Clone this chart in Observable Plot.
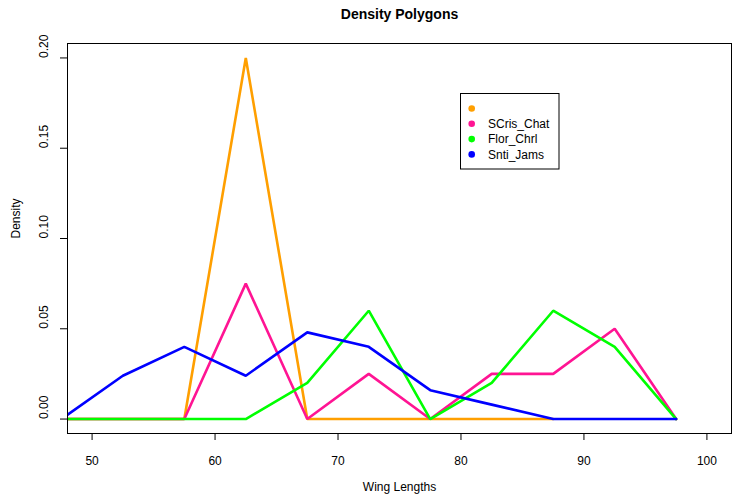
<!DOCTYPE html>
<html>
<head>
<meta charset="utf-8">
<script src="https://cdn.jsdelivr.net/npm/d3@7"></script>
<script src="https://cdn.jsdelivr.net/npm/@observablehq/plot@0.6"></script>
<style>
  html, body { margin: 0; padding: 0; background: #fff; }
  svg { display: block; }
</style>
</head>
<body>
<div id="chart"></div>
<script>
// Bin midpoints (wing lengths)
const mids = [47.5, 52.5, 57.5, 62.5, 67.5, 72.5, 77.5, 82.5, 87.5, 92.5, 97.5];
// Density per series (null = no point)
const orangeVals = [0, 0, 0, 0.2, 0, 0, 0, 0, 0, null, null];
const scrisChat  = [0, 0, 0, 0.075, 0, 0.025, 0, 0.025, 0.025, 0.05, 0];
const florChrl   = [0, 0, 0, 0, 0.02, 0.06, 0, 0.02, 0.06, 0.04, 0];
const sntiJams   = [0, 0.024, 0.04, 0.024, 0.048, 0.04, 0.016, 0.008, 0, 0, 0];

const seriesNames  = ["", "SCris_Chat", "Flor_Chrl", "Snti_Jams"];
const seriesColors = ["#FF9F00", "#FF1493", "#00FF00", "#0000FF"];
const seriesValues = [orangeVals, scrisChat, florChrl, sntiJams];

const xTicks = [50, 60, 70, 80, 90, 100];
const yTicks = [0, 0.05, 0.10, 0.15, 0.20];

const rows = [];
seriesValues.forEach((vals, s) => {
  vals.forEach((v, i) => {
    if (v !== null) rows.push({series: s, x: mids[i], y: v});
  });
});

const W = 735, H = 497;
const mL = 67, mR = 4, mT = 43, mB = 64;
const font = "'Liberation Sans', Arial, Helvetica, sans-serif";

const plot = Plot.plot({
  width: W,
  height: H,
  marginLeft: mL,
  marginRight: mR,
  marginTop: mT,
  marginBottom: mB,
  style: {fontFamily: font, fontSize: "12px", background: "#fff", color: "#000"},
  x: {domain: [48, 102], axis: null, label: null},
  y: {domain: [-0.008, 0.208], axis: null, label: null},
  marks: [
    // series lines (clipped to plot region like R)
    ...seriesValues.map((_, s) =>
      Plot.line(rows.filter(d => d.series === s), {
        x: "x", y: "y", stroke: seriesColors[s], strokeWidth: 2.6,
        strokeLinejoin: "miter", clip: true
      })
    ),
    Plot.frame({stroke: "#000", strokeWidth: 1}),
    // x axis ticks and labels
    Plot.axisX({ticks: xTicks, tickSize: 7, tickPadding: 16, tickFormat: d => d,
      fontSize: 12, anchor: "bottom", stroke: "#000", label: null}),
    // y axis ticks
    Plot.axisY({ticks: yTicks, tickSize: 7, tickFormat: () => "", anchor: "left", stroke: "#000", label: null}),
    // rotated y tick labels
    Plot.text(yTicks, {y: d => d, text: d => d3.format(".2f")(d), frameAnchor: "left",
      dx: -23, rotate: -90, fontSize: 12, fill: "#000"}),
    // axis titles
    Plot.text(["Wing Lengths"], {frameAnchor: "bottom", dy: 57, fontSize: 12, fill: "#000"}),
    Plot.text(["Density"], {frameAnchor: "left", dx: -51, rotate: -90, fontSize: 12, fill: "#000"}),
    Plot.text(["Density Polygons"], {frameAnchor: "top", dy: -34, fontSize: 14, fontWeight: "bold", fill: "#000"})
  ]
});

document.getElementById("chart").appendChild(plot);

// legend (R-style box at top right)
const svg = d3.select(plot);
const lg = svg.append("g").attr("font-family", font).attr("font-size", 12).attr("text-anchor", "start");
lg.append("rect").attr("x", 460.5).attr("y", 93.5).attr("width", 98.5).attr("height", 75.5)
  .attr("fill", "#fff").attr("stroke", "#000").attr("stroke-width", 1);
seriesNames.forEach((name, i) => {
  const cy = 108.5 + i * 15.3;
  lg.append("circle").attr("cx", 471.7).attr("cy", cy).attr("r", 3.3).attr("fill", seriesColors[i]);
  lg.append("text").attr("x", 488).attr("y", cy).attr("dy", "0.36em")
    .attr("text-anchor", "start").attr("fill", "#000").text(name);
});
</script>
</body>
</html>
